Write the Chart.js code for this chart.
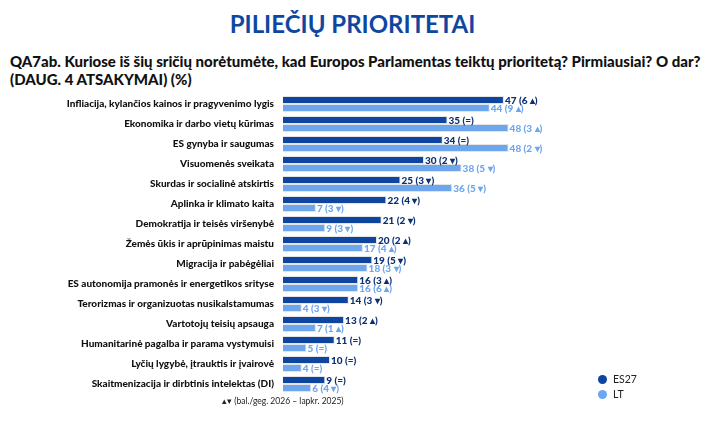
<!DOCTYPE html>
<html>
<head>
<meta charset="utf-8">
<script src="https://cdn.jsdelivr.net/npm/chart.js@4/dist/chart.umd.min.js"></script>
<style>
  body { margin: 0; background: #fff; font-family: Lato, sans-serif; }
  #wrap { position: relative; width: 705px; height: 425px; }
  #title { position: absolute; left: 0; width: 705px; top: 9px; text-align: center;
    font-size: 24px; font-weight: bold; color: #0e47a1; }
  #question { position: absolute; left: 10px; top: 52px; font-size: 15px; font-weight: 900;
    color: #111; line-height: 18px; }
  #note { position: absolute; left: 222px; top: 396px; font-size: 8.5px; color: #222; }
  .leg { position: absolute; left: 598px; font-size: 10.5px; color: #222; }
  .leg span { display: inline-block; width: 9px; height: 9px; border-radius: 50%;
    margin-right: 6px; vertical-align: -1px; }
  canvas { position: absolute; left: 0; top: 0; }
</style>
</head>
<body>
<div id="wrap">
  <div id="title">PILIEČIŲ PRIORITETAI</div>
  <div id="question">QA7ab. Kuriose iš šių sričių norėtumėte, kad Europos Parlamentas teiktų prioritetą? Pirmiausiai? O dar?<br>(DAUG. 4 ATSAKYMAI) (%)</div>
  <canvas id="myChart" width="705" height="425"></canvas>
  <div id="note">▴▾ (bal./geg. 2026 – lapkr. 2025)</div>
  <div class="leg" style="top:373px"><span style="background:#0d45a0"></span>ES27</div>
  <div class="leg" style="top:388px"><span style="background:#6ea6ee"></span>LT</div>
</div>
<script>
'use strict';

var categories = [
  'Infliacija, kylančios kainos ir pragyvenimo lygis',
  'Ekonomika ir darbo vietų kūrimas',
  'ES gynyba ir saugumas',
  'Visuomenės sveikata',
  'Skurdas ir socialinė atskirtis',
  'Aplinka ir klimato kaita',
  'Demokratija ir teisės viršenybė',
  'Žemės ūkis ir aprūpinimas maistu',
  'Migracija ir pabėgėliai',
  'ES autonomija pramonės ir energetikos srityse',
  'Terorizmas ir organizuotas nusikalstamumas',
  'Vartotojų teisių apsauga',
  'Humanitarinė pagalba ir parama vystymuisi',
  'Lyčių lygybė, įtrauktis ir įvairovė',
  'Skaitmenizacija ir dirbtinis intelektas (DI)'
];

var es27 = [47, 35, 34, 30, 25, 22, 21, 20, 19, 16, 14, 13, 11, 10, 9];
var lt = [44, 48, 48, 38, 36, 7, 9, 17, 18, 16, 4, 7, 5, 4, 6];

// change vs previous wave
var es27Change = ['6 ▴', '=', '=', '2 ▾', '3 ▾', '4 ▾', '2 ▾', '2 ▴', '5 ▾', '3 ▴', '3 ▾', '2 ▴', '=', '=', '='];
var ltChange = ['9 ▴', '3 ▴', '2 ▾', '5 ▾', '5 ▾', '3 ▾', '3 ▾', '4 ▴', '3 ▾', '6 ▴', '3 ▾', '1 ▴', '=', '=', '4 ▾'];

var darkBlue = '#0d45a0';
var lightBlue = '#6ea6ee';

var valueLabels = {
  id: 'valueLabels',
  afterDatasetsDraw: function (chart) {
    var ctx = chart.ctx;
    ctx.save();
    ctx.font = '900 10px Lato';
    ctx.textBaseline = 'middle';
    ctx.textAlign = 'left';
    chart.data.datasets.forEach(function (ds, d) {
      var meta = chart.getDatasetMeta(d);
      ctx.fillStyle = d === 0 ? '#0b2f73' : lightBlue;
      var changes = d === 0 ? es27Change : ltChange;
      meta.data.forEach(function (bar, i) {
        ctx.fillText(ds.data[i] + ' (' + changes[i] + ')', bar.x + 1, bar.y + 0.5);
      });
    });
    ctx.restore();
  }
};

var ctx = document.getElementById('myChart').getContext('2d');
var chart = new Chart(ctx, {
  type: 'bar',
  data: {
    labels: categories,
    datasets: [{
      label: 'ES27',
      data: es27,
      backgroundColor: darkBlue,
      borderColor: '#e4e4e4',
      borderWidth: 1,
      categoryPercentage: 0.8,
      barPercentage: 1.0
    }, {
      label: 'LT',
      data: lt,
      backgroundColor: lightBlue,
      borderColor: '#e4e4e4',
      borderWidth: 1,
      categoryPercentage: 0.8,
      barPercentage: 1.0
    }]
  },
  options: {
    indexAxis: 'y',
    responsive: false,
    animation: false,
    layout: { padding: { top: 94, bottom: 31, right: 140, left: 0 } },
    plugins: { legend: { display: false }, tooltip: { enabled: false } },
    scales: {
      x: {
        display: false,
        min: 0,
        max: 60
      },
      y: {
        grid: { display: false, drawTicks: false },
        border: { display: false },
        ticks: {
          color: '#111',
          padding: 9,
          font: { family: 'Lato', weight: '900', size: 10 }
        },
        afterFit: function (scale) { scale.width = 283; }
      }
    }
  },
  plugins: [valueLabels]
});
</script>
</body>
</html>
